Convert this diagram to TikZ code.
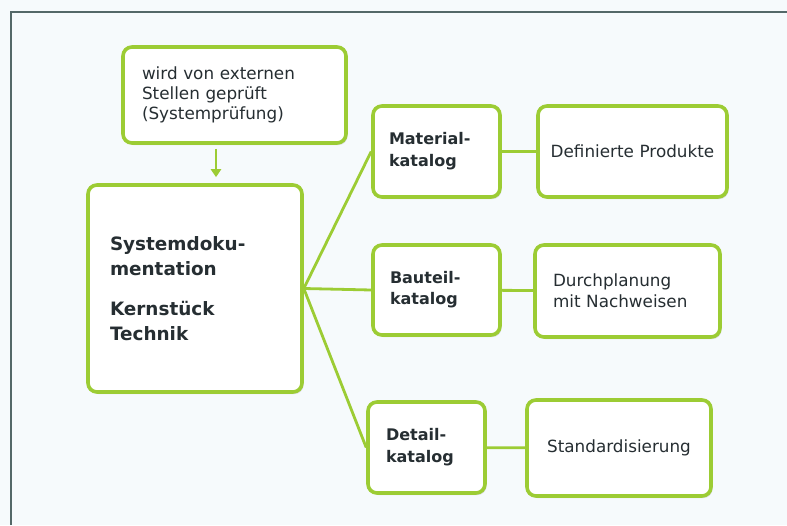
\documentclass[tikz,border=0pt]{standalone}
\usepackage{fontspec}
\setmainfont{DejaVu Sans}
\usetikzlibrary{arrows.meta,shadows}

\definecolor{leaf}{RGB}{156,204,52}
\definecolor{ink}{RGB}{38,46,50}
\definecolor{paper}{RGB}{246,250,252}
\definecolor{rule}{RGB}{84,104,104}

\tikzset{
  box/.style={draw=leaf,line width=3.6pt,rounded corners=9pt,fill=white,
    text=ink,align=left,inner ysep=0pt,
    drop shadow={opacity=0.25,shadow xshift=1.5pt,shadow yshift=-2pt}},
  link/.style={draw=leaf,line width=2.8pt},
}

\begin{document}
\begin{tikzpicture}[x=1pt,y=-1pt]
\fill[paper] (0,0) rectangle (787,525);
\useasboundingbox (0,0) rectangle (787,525);
\draw[rule,line width=1.4pt] (11,525)--(11,12)--(787,12);

\draw (234.5,95)node[box,text width=185pt,inner xsep=19pt,minimum height=96pt,font=\fontsize{16.8}{20}\selectfont](pruef){wird von externen\\Stellen geprüft\\(Systemprüfung)};

\draw (195,288.5)node[box,text width=170pt,inner xsep=22pt,minimum height=207pt,font=\bfseries\fontsize{18.4}{25}\selectfont](doku){Systemdoku-\\mentation\\[15pt]Kernstück\\Technik};

\draw (436.5,151.5)node[box,text width=95pt,inner xsep=16pt,minimum height=91pt,font=\bfseries\fontsize{16}{22}\selectfont](mat){Material-\\katalog};
\draw (632.5,151.5)node[box,text width=189pt,inner xsep=0pt,minimum height=91pt,align=center,font=\fontsize{16.8}{20}\selectfont](prod){Definierte Produkte};

\draw (436.5,290)node[box,text width=93pt,inner xsep=17pt,minimum height=90pt,font=\bfseries\fontsize{16}{21}\selectfont](bau){Bauteil-\\katalog};
\draw (627.5,291)node[box,text width=149pt,inner xsep=18pt,minimum height=92pt,font=\fontsize{16.8}{21}\selectfont](plan){Durchplanung\\mit Nachweisen};

\draw (426.5,447.5)node[box,text width=81pt,inner xsep=18pt,minimum height=91pt,font=\bfseries\fontsize{16}{22}\selectfont](det){Detail-\\katalog};
\draw (619,448)node[box,text width=184pt,inner xsep=0pt,minimum height=96pt,align=center,font=\fontsize{16.8}{20}\selectfont](std){Standardisierung};

% Pfeil von oben
\draw[link,-{Triangle[width=10pt,length=8pt]}] ([xshift=-18.5pt,yshift=-4pt]pruef.south)--([xshift=21pt,yshift=6pt]doku.north);

\draw[link] (doku.east)--(mat.west);
\draw[link] (doku.east)--(bau.west);
\draw[link] (doku.east)--(det.west);

\draw[link] (mat)--(prod);
\draw[link] (bau)--(plan);
\draw[link] (det)--(std);
\end{tikzpicture}
\end{document}
